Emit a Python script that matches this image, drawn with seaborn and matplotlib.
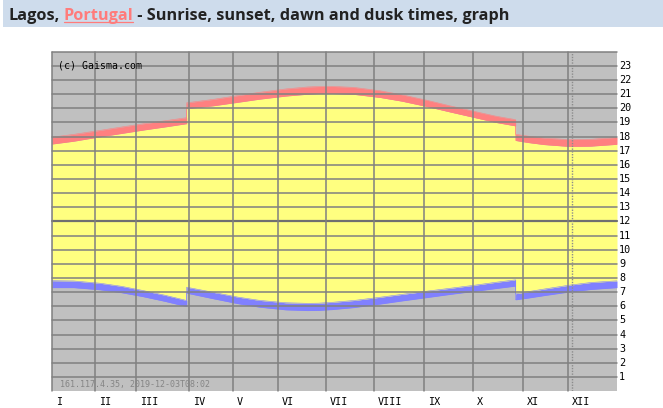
import matplotlib
matplotlib.use("Agg")
import matplotlib.pyplot as plt
from matplotlib.patches import Rectangle
from matplotlib.lines import Line2D
import seaborn as sns
import pandas as pd

# ---------------- data (hours, local time) ----------------
days = [0, 14, 31, 45, 59, 73, 87, 87, 104, 120, 134, 151, 165, 172, 181, 195,
        212, 226, 243, 257, 273, 287, 299.5, 299.5, 308, 318, 334, 348, 365]
dawn = [7.32, 7.32, 7.17, 6.96, 6.68, 6.35, 5.98, 6.93, 6.54, 6.19, 5.94, 5.75, 5.70, 5.71, 5.77, 5.91,
        6.16, 6.38, 6.63, 6.84, 7.06, 7.26, 7.43, 6.46, 6.59, 6.76, 7.01, 7.19, 7.32]
sunrise = [7.81, 7.79, 7.63, 7.41, 7.11, 6.78, 6.41, 7.35, 6.99, 6.65, 6.42, 6.25, 6.21, 6.22, 6.28, 6.41,
           6.64, 6.84, 7.08, 7.27, 7.49, 7.70, 7.87, 6.89, 7.04, 7.22, 7.49, 7.68, 7.80]
sunset = [17.47, 17.67, 17.98, 18.22, 18.46, 18.68, 18.91, 19.97, 20.17, 20.42, 20.64, 20.86, 20.99, 21.03, 21.04, 20.98,
          20.76, 20.50, 20.10, 19.74, 19.34, 18.99, 18.75, 17.72, 17.57, 17.43, 17.30, 17.32, 17.45]
dusk = [17.95, 18.15, 18.43, 18.67, 18.90, 19.11, 19.33, 20.38, 20.62, 20.89, 21.12, 21.36, 21.50, 21.53, 21.54, 21.47,
        21.23, 20.95, 20.54, 20.17, 19.77, 19.43, 19.19, 18.15, 18.02, 17.89, 17.78, 17.80, 17.94]

month_labels = ["I", "II", "III", "IV", "V", "VI", "VII", "VIII", "IX", "X", "XI", "XII"]
month_starts = [0, 27.8, 54.3, 88.5, 116.9, 146.0, 177.0, 208.0, 240.3, 272.0, 304.3, 333.3]
grid_hours = list(range(1, 25))
hour_labels = [str(h) for h in range(1, 24)]
today = 335.7

title_parts = ["Lagos,", " ", "Portugal", " - Sunrise, sunset, dawn and dusk times, graph"]
copyright_text = "(c) Gaisma.com"
stamp_text = "161.117.4.35, 2019-12-03T08:02"

# ---------------- style ----------------
sns.set_style("white")
plt.rcParams['font.family'] = ['DejaVu Sans']
MONO = 'DejaVu Sans Mono'

W, H = 663, 408
fig = plt.figure(figsize=(W / 100, H / 100), dpi=100)
fig.patch.set_facecolor('white')

# overlay in pixel coordinates for the title band
bg = fig.add_axes([0, 0, 1, 1])
bg.set_xlim(0, W)
bg.set_ylim(H, 0)
bg.axis('off')
bg.add_patch(Rectangle((3, 0), W - 3, 27, facecolor='#cedcec', edgecolor='none'))

# main axes
top_px, bot_px, left_px, right_px = 51.6, 391.2, 52, 617
ax = fig.add_axes([left_px / W, (H - bot_px) / H, (right_px - left_px) / W, (bot_px - top_px) / H])
ax.set_facecolor('#c0c0c0')

df = pd.DataFrame(dict(day=days, dawn=dawn, sunrise=sunrise, sunset=sunset, dusk=dusk))
ax.fill_between(df.day, df.dawn, df.sunrise, color='#8080ff', lw=0, zorder=1)
ax.fill_between(df.day, df.sunrise, df.sunset, color='#ffff80', lw=0, zorder=1)
ax.fill_between(df.day, df.sunset, df.dusk, color='#ff8080', lw=0, zorder=1)

long = df.melt(id_vars='day', var_name='series', value_name='hour')
sns.lineplot(data=long, x='day', y='hour', hue='series', estimator=None, sort=False,
             palette={'dawn': '#8080ff', 'sunrise': '#8080ff', 'sunset': '#ff8080', 'dusk': '#ff8080'},
             legend=False, lw=0.4, ax=ax, zorder=1.5)

ax.set_xlim(0, 365)
ax.set_ylim(0, 24)
ax.set_xlabel('')
ax.set_ylabel('')
ax.set_xticks([])
ax.set_yticks([])
for s in ax.spines.values():
    s.set_visible(False)

for h in grid_hours:
    ax.axhline(h, color='#707070' if h == 12 else '#808080', lw=1.6 if h == 12 else 1.1,
               zorder=3, clip_on=False)
for d in month_starts:
    ax.axvline(d, color='#808080', lw=1.1, zorder=3, clip_on=False)
ax.axvline(today, color='#8c8c8c', lw=1.0, ls=(0, (1, 1)), zorder=3)

for h, lbl in zip(range(1, 24), hour_labels):
    ax.annotate(lbl, xy=(1, h), xycoords=('axes fraction', 'data'), xytext=(2, 0),
                textcoords='offset pixels', ha='left', va='center', family=MONO,
                fontsize=7.3, color='black', annotation_clip=False)

for d, lbl in zip(month_starts, month_labels):
    ax.annotate(lbl, xy=(d, 0), xycoords='data', xytext=(4, -10.5),
                textcoords='offset pixels', ha='left', va='center', family=MONO,
                fontsize=7.3, color='black', annotation_clip=False)

ax.annotate(copyright_text, xy=(0, 1), xycoords='axes fraction', xytext=(6.5, -14),
            textcoords='offset pixels', ha='left', va='center', family=MONO,
            fontsize=7.1, color='black', zorder=4)
ax.annotate(stamp_text, xy=(0, 0), xycoords='axes fraction', xytext=(7.5, 7.2),
            textcoords='offset pixels', ha='left', va='center', family=MONO,
            fontsize=6.0, color='#858585', zorder=4)

# ---------------- title ----------------
TFONT = 'Open Sans'
fs = 12.0
colors = ['#222222', '#222222', '#ff7b7b', '#222222']
texts = []
t = bg.annotate(title_parts[0], xy=(8, 20), xycoords='data', ha='left', va='baseline',
                fontsize=fs, fontweight='bold', family=TFONT, color=colors[0], annotation_clip=False)
texts.append(t)
for part, c in zip(title_parts[1:], colors[1:]):
    t = bg.annotate(part, xy=(1, 0), xycoords=t, ha='left', va='bottom',
                    fontsize=fs, fontweight='bold', family=TFONT, color=c, annotation_clip=False)
    texts.append(t)

fig.canvas.draw()
r = fig.canvas.get_renderer()
bb = texts[-1].get_window_extent(r)
scale = (507 - 8) / (bb.x1 - 8)
for t in texts:
    t.set_fontsize(fs * scale)
fig.canvas.draw()
b2 = texts[2].get_window_extent(r)
yb = H - (b2.y0 + 2.5)
bg.add_line(Line2D([b2.x0 + 0.5, b2.x1 - 0.5], [yb, yb], color='#ff7b7b', lw=0.9))

fig.savefig('out.png', dpi=100)
